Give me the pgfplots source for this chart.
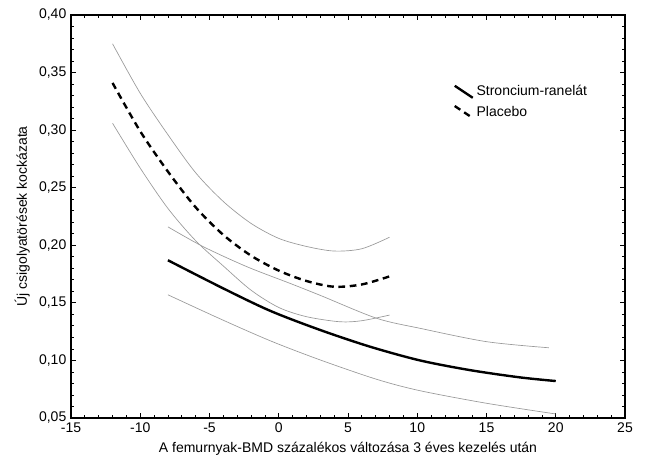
\documentclass[border=0pt]{standalone}
\usepackage{fontspec}
\setmainfont{Liberation Sans}
\usepackage{pgfplots}
\pgfplotsset{compat=1.18}

\newcommand{\lblfont}{\fontsize{10.5}{12}\selectfont}

\begin{document}
\begin{tikzpicture}
\begin{axis}[
    scale only axis,
    width=415.5pt, height=302.25pt,
    xmin=-15, xmax=25, ymin=0.05, ymax=0.40,
    xtick={-15,-10,-5,0,5,10,15,20,25},
    ytick={0.05,0.10,0.15,0.20,0.25,0.30,0.35,0.40},
    minor x tick num=4, minor y tick num=4,
    tick align=inside,
    major tick length=4pt, minor tick length=2pt,
    axis line style={line width=0.9pt},
    every tick/.style={black, line width=0.6pt},
    /pgf/number format/assume math mode=true,
    ticklabel style={font=\lblfont},
    yticklabel style={/pgf/number format/.cd, fixed, fixed zerofill, precision=2, use comma},
    xlabel={A femurnyak-BMD százalékos változása 3 éves kezelés után},
    ylabel={Új csigolyatörések kockázata},
    label style={font=\lblfont},
    legend style={draw=none, fill=none, at={(0.69,0.832)}, anchor=north west,
        font=\lblfont, inner sep=0pt, row sep=2pt},
    legend cell align=left,
    legend image code/.code={\draw[#1] (0pt,4.5pt) -- (13.5pt,-4.5pt);},
]
% confidence bands, strontium
\addplot[black!40, line width=0.5pt, smooth, forget plot] coordinates {
    (-8,0.216) (-5.45,0.1988) (-2.3,0.1814) (0.8,0.167) (3,0.1565)
    (7.07,0.1366) (10.2,0.1279) (15,0.1163) (19.5,0.111)
};
\addplot[black!40, line width=0.5pt, smooth, forget plot] coordinates {
    (-8,0.157) (-4.3,0.1365) (-0.6,0.117) (3,0.1004) (7.07,0.0836)
    (10.2,0.0737) (15,0.0628) (20,0.0535)
};
% confidence bands, placebo
\addplot[black!40, line width=0.5pt, smooth, forget plot] coordinates {
    (-12,0.375) (-10,0.332) (-8,0.296) (-6,0.263) (-4,0.238) (-2,0.219)
    (0,0.206) (2,0.199) (4,0.195) (6,0.197) (8,0.207)
};
\addplot[black!40, line width=0.5pt, smooth, forget plot] coordinates {
    (-12,0.306) (-10,0.267) (-8,0.232) (-6,0.204) (-4,0.182) (-2,0.161)
    (0,0.146) (2,0.138) (4.4,0.1336) (6,0.1345) (8,0.1394)
};
% strontium
\addplot[black, line width=1.8pt, smooth] coordinates {
    (-8,0.187) (-4,0.1625) (-0.6,0.143) (3,0.1264) (6.6,0.1119)
    (10.2,0.1000) (13.8,0.0916) (17.4,0.0853) (20,0.0821)
};
% placebo
\addplot[black, line width=1.8pt, smooth, dash pattern=on 5pt off 3.5pt] coordinates {
    (-12,0.341) (-10,0.299) (-8,0.264) (-6,0.233) (-4,0.209) (-2,0.191)
    (0,0.178) (2,0.169) (4,0.164) (6,0.166) (8,0.173)
};
\legend{Stroncium-ranelát, Placebo}
\end{axis}
\pgfresetboundingbox
\path ([shift={(-53.25pt,-32.25pt)}]current axis.south west)
    rectangle ([shift={(15pt,11.25pt)}]current axis.north east);
\end{tikzpicture}
\end{document}
